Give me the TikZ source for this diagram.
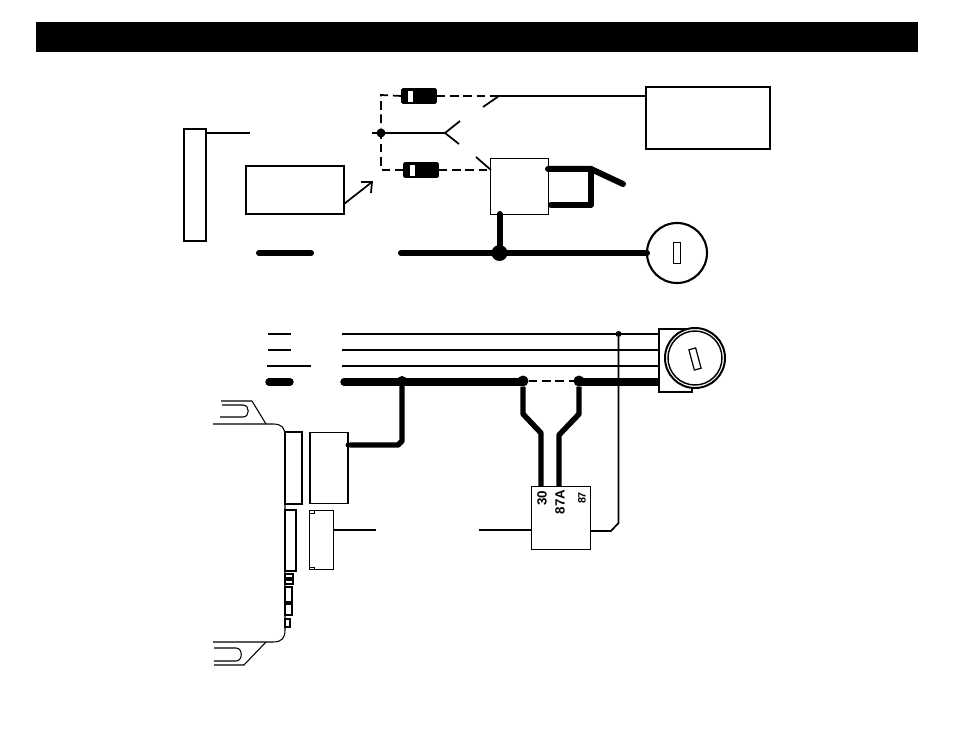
\documentclass[tikz,border=0pt]{standalone}
\usepackage{fontspec}
\setmainfont{Liberation Sans}
\usetikzlibrary{calc}
\newcommand{\pxu}{0.75pt}
\tikzset{
 x=0.75pt,y=-0.75pt,
 box/.style={draw=black,fill=white,line width=1.1pt,rectangle,inner sep=0pt,outer sep=0pt},
 thin wire/.style={draw=black,line width=1.3pt},
 fine wire/.style={draw=black,line width=0.8pt},
 thick wire/.style={draw=black,line width=4.5pt,line cap=round,line join=round},
 dash wire/.style={draw=black,line width=1.3pt,dash pattern=on 6.5pt off 3.5pt},
 dot/.style={circle,fill=black,inner sep=0pt,outer sep=0pt},
 diode/.style={draw=black,fill=black,rounded corners=1pt,minimum width=35*\pxu,minimum height=15*\pxu,inner sep=0pt,outer sep=0pt},
 pin/.style={rotate=90,inner sep=0pt},
 keyslot/.style={draw=black,fill=white,line width=0.9pt,minimum width=7*\pxu,minimum height=21*\pxu,inner sep=0pt},
}
\begin{document}
\begin{tikzpicture}
\useasboundingbox (0,0) rectangle (954,738);
\fill[black] (36,22) rectangle (918,52);
% upper part
\node[box,minimum width=22*\pxu,minimum height=112*\pxu] (strip) at (195,185) {};
\coordinate (stripEnd) at (250,133);
\draw[thin wire] (strip.east |- stripEnd) -- (stripEnd);
\node[box,minimum width=98*\pxu,minimum height=48*\pxu] (ctl) at (295,190) {};
\coordinate (arrowTip) at (372,182);
\coordinate (arrowStart) at (344,204);
\draw[thin wire] (arrowStart) -- (arrowTip);
\draw[thin wire] (361,182) -- (arrowTip) -- (371,193);
\node[box,minimum width=124*\pxu,minimum height=62*\pxu] (panel) at (708,118) {};
\node[dot,minimum size=9*\pxu] (j1) at (381,133) {};
% diodes
\node[diode] (d1) at (419,96) {};
\fill[white] (408,91) rectangle (413,102);
\node[diode] (d2) at (421,170) {};
\fill[white] (410,165) rectangle (415,176);
\coordinate (c1) at (381,95);
\coordinate (c2) at (381,170);
\draw[dash wire] (d1.west) -- (c1) -- (j1);
\draw[dash wire] (d2.west) -- (c2) -- (j1);
\coordinate (sw1) at (499,96);
\coordinate (sw1b) at (483,107);
\draw[dash wire] (d1.east) -- (sw1);
\draw[thin wire] (sw1b) -- (sw1) -- (panel.west |- sw1);
\coordinate (fork) at (445,133);
\coordinate (forka) at (460,121);
\coordinate (forkb) at (459,144);
\coordinate (jl) at (372,133);
\draw[thin wire] (jl) -- (fork);
\draw[thin wire] (forka) -- (fork) -- (forkb);
\node[box,line width=.7pt,minimum width=58*\pxu,minimum height=56*\pxu] (relay1) at (519.5,186) {};
\draw[dash wire] (d2.east) -- (relay1.west |- d2.east);
\coordinate (tick) at (476,157);
\coordinate (tickEnd) at (491,170);
\draw[thin wire] (tick) -- (tickEnd);
\coordinate (hinge) at (591,169);
\coordinate (tail) at (623,184);
\coordinate (lower) at (591,205);
\draw[thick wire] (548,169) -- (hinge) -- (tail);
\draw[thick wire] (hinge) -- (lower) -- (551,205);
% bus
\node[draw=black,fill=white,circle,line width=1.6pt,minimum size=60*\pxu,inner sep=0pt,outer sep=0pt] (lock1) at (677,253) {};
\node[keyslot] (slot1) at (677,253) {};
\node[dot,minimum size=16*\pxu] (j2) at (499.5,253) {};
\coordinate (busL) at (401,253);
\draw[thick wire] (busL) -- (lock1.west);
\draw[thick wire] (j2) -- (relay1.south -| j2);
\coordinate (sa) at (259,253);
\coordinate (sb) at (311,253);
\draw[thick wire] (sa) -- (sb);
% lower part
\coordinate (b1) at (344,382);
\coordinate (b2) at (659,382);
\foreach \yy/\xa/\xb in {334/268/291,350/268/291,366/267/311}{\draw[thin wire] (\xa,\yy) -- (\xb,\yy);}
\foreach \yy in {334,350,366}{\draw[thin wire] (342,\yy) -- (659,\yy);}
\draw[line width=5.6pt,line cap=round] (269,382) -- (290,382);
\node[dot,minimum size=10*\pxu] (j3) at (402,381) {};
\node[dot,minimum size=11*\pxu] (j4) at (523,381) {};
\node[dot,minimum size=11*\pxu] (j5) at (579,381) {};
\draw[line width=5.6pt] (523,382) -- (b1) (579,382) -- (b2);
\draw[line width=5.6pt,line cap=round] (b1) -- ++(2,0);
\draw[dash wire] (j4) -- (j5);
\draw[box] (659,329) -- (692,329) -- (692,392) -- (659,392) -- cycle;
\node[draw=black,fill=white,circle,line width=1.5pt,minimum size=60*\pxu,inner sep=0pt] (lock2) at (695,358) {};
\node[draw=black,fill=white,circle,line width=1.1pt,minimum size=54*\pxu,inner sep=0pt] (lock2i) at (695,358) {};
\node[keyslot,rotate=15] (slot2) at (695,359) {};
\node[box,line width=.8pt,minimum width=38*\pxu,minimum height=71*\pxu] (c3) at (329,468) {};
\node[dot,minimum size=5*\pxu] (c3p) at (348,445) {};
\draw[thick wire,line width=4.1pt] (c3p) -- (398,445) -- (402,441) -- (j3);
\node[box,minimum width=59*\pxu,minimum height=63*\pxu] (relay2) at (561,518) {};
\draw[thick wire,line width=4.1pt,line cap=butt] (j4) -- (523,414) -- (541,433) -- (541,486);
\draw[thick wire,line width=4.1pt,line cap=butt] (j5) -- (579,414) -- (559,435) -- (559,486);
\node[pin,font=\fontsize{10}{10}\bfseries\selectfont] (p30) at (542,498) {30};
\node[pin,font=\fontsize{10}{10}\bfseries\selectfont] (p87a) at (560,502) {87A};
\node[pin,font=\fontsize{8}{8}\bfseries\selectfont] (p87) at (582,498) {87};
\node[dot,minimum size=6*\pxu] (j6) at (618.5,334) {};
\draw[thin wire] (relay2.east |- 0,531) -- (611,531) -- (618.5,523) -- (j6);
\coordinate (wr) at (479,530);
\draw[thin wire] (wr) -- (relay2.west |- wr);
% module
\draw[fill=white,line width=0.8pt] (213,424) -- (273,424) .. controls (282,424) and (285,428) .. (285,436) -- (285,630) .. controls (285,638) and (282,642) .. (273,642) -- (213,642);
\draw[fill=white,line width=.8pt] (285,432) rectangle (302,504);
\draw[line width=1.5pt] (285,432) -- (302,432) -- (302,504) -- (285,504);
\draw[fill=white,line width=.8pt] (285,510) rectangle (296,571);
\draw[line width=1.1pt] (285,510) -- (296,510) -- (296,571) -- (285,571);
\foreach \ya/\h/\w in {574/4/8,580/4/8,587/15/7,604/11/7,619/8/5}{\draw[fine wire] (285,\ya) rectangle ++(\w,\h);}
\node[box,line width=.7pt,minimum width=24*\pxu,minimum height=59*\pxu,anchor=north west] (c4) at (309,510) {};
\draw[line width=.6pt] (309,513) -- (314,513) -- (314,510) (309,567) -- (314,567) -- (314,569);
\coordinate (wc) at (376,530);
\draw[thin wire] (c4.east |- wc) -- (wc);
% tabs
\draw[fine wire] (221,401) -- (252,401) -- (266,424);
\draw[fine wire] (222,405) -- (243,405) .. controls (250,405) and (250,417) .. (243,417) -- (220,417);
\draw[fine wire] (214,665) -- (244,665) -- (266,642);
\draw[fine wire] (214,648) -- (236,648) .. controls (243,648) and (243,661) .. (236,661) -- (214,661);
\end{tikzpicture}
\end{document}
